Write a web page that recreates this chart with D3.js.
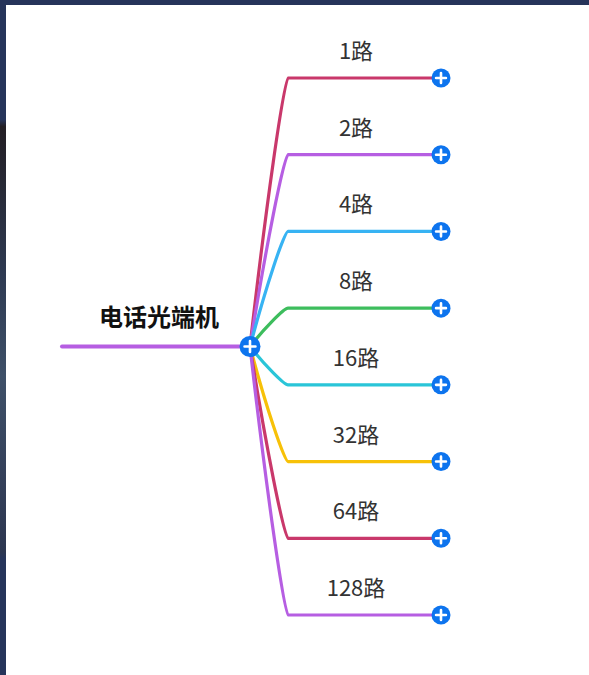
<!DOCTYPE html>
<html>
<head>
<meta charset="utf-8">
<script src="https://cdn.jsdelivr.net/npm/d3@7"></script>
<style>
  html, body { margin: 0; padding: 0; background: #ffffff; }
  svg { display: block; }
</style>
</head>
<body>
<div id="chart"></div>
<script>
const rootLabel = '电话光端机';
const rootColor = '#b65ee2';
const branchLabels = ['1路', '2路', '4路', '8路', '16路', '32路', '64路', '128路'];
const branchColors = ['#c9386b', '#b65ee2', '#37b3f3', '#3dbd5d', '#2ac5d8', '#f7c108', '#c9386b', '#b65ee2'];

const width = 589;
const height = 675;

const svg = d3.select('#chart')
  .append('svg')
  .attr('width', width)
  .attr('height', height);

// dark frame around the white canvas
svg.append('rect').attr('x', 0).attr('y', 0).attr('width', width).attr('height', height).attr('fill', '#26345a');
const edge = svg.append('defs').append('linearGradient')
  .attr('id', 'edge').attr('x1', 0).attr('y1', 0).attr('x2', 0).attr('y2', 1);
edge.append('stop').attr('offset', '0%').attr('stop-color', '#26345a');
edge.append('stop').attr('offset', '17%').attr('stop-color', '#26345a');
edge.append('stop').attr('offset', '18%').attr('stop-color', '#231f24');
edge.append('stop').attr('offset', '40%').attr('stop-color', '#2e3a52');
edge.append('stop').attr('offset', '55%').attr('stop-color', '#3e5068');
edge.append('stop').attr('offset', '70%').attr('stop-color', '#34405a');
edge.append('stop').attr('offset', '81%').attr('stop-color', '#2c3650');
edge.append('stop').attr('offset', '82%').attr('stop-color', '#26345a');
edge.append('stop').attr('offset', '100%').attr('stop-color', '#26345a');
svg.append('rect').attr('x', 0).attr('y', 5).attr('width', 6).attr('height', height).attr('fill', 'url(#edge)');
svg.append('rect').attr('x', 6).attr('y', 5).attr('width', width - 6).attr('height', height - 5).attr('fill', '#ffffff');

const y = d3.scalePoint()
  .domain(branchLabels)
  .range([78, 615]);

const rootX = 250;
const rootY = (y.range()[0] + y.range()[1]) / 2;
const rootLineStart = 62;
const nodeStart = 288;
const nodeEnd = 441;
const labelCenter = 356;

const color = d3.scaleOrdinal().domain(branchLabels).range(branchColors);

// root underline and label
svg.append('line')
  .attr('x1', rootLineStart).attr('x2', rootX)
  .attr('y1', rootY).attr('y2', rootY)
  .attr('stroke', rootColor)
  .attr('stroke-width', 4)
  .attr('stroke-linecap', 'round');

svg.append('text')
  .attr('x', (rootLineStart + rootX) / 2 + 3)
  .attr('y', rootY - 21)
  .attr('text-anchor', 'middle')
  .attr('font-family', '"Noto Sans CJK SC", sans-serif')
  .attr('font-size', 24)
  .attr('font-weight', 'bold')
  .attr('fill', '#111')
  .text(rootLabel);

const curve = d => {
  const x0 = rootX, y0 = rootY, x1 = nodeStart, y1 = y(d);
  const dx = x1 - x0, dy = y1 - y0;
  const p = d3.path();
  p.moveTo(x0, y0);
  p.bezierCurveTo(x0 + dx * 0.4, y0 + dy * 0.5, x1 - dx * 0.1, y1, x1, y1);
  p.lineTo(nodeEnd, y1);
  return p.toString();
};

const branches = svg.append('g').selectAll('g')
  .data(branchLabels)
  .enter()
  .append('g');

branches.append('path')
  .attr('d', curve)
  .attr('fill', 'none')
  .attr('stroke', d => color(d))
  .attr('stroke-width', 3.2)
  .attr('stroke-linecap', 'round');

branches.append('text')
  .attr('x', labelCenter)
  .attr('y', d => y(d) - 19)
  .attr('text-anchor', 'middle')
  .attr('font-family', '"Noto Sans CJK SC", sans-serif')
  .attr('font-size', 22)
  .attr('fill', '#333')
  .text(d => d);

const expandBtn = (cx, cy, r) => {
  const g = svg.append('g').attr('transform', `translate(${cx},${cy})`);
  g.append('circle').attr('r', r).attr('fill', '#0d74ee');
  const s = r * 0.52;
  g.append('path')
    .attr('d', `M${-s},0H${s}M0,${-s}V${s}`)
    .attr('stroke', '#fff')
    .attr('stroke-width', 2.6)
    .attr('stroke-linecap', 'round');
};

branchLabels.forEach(d => expandBtn(nodeEnd, y(d), 9.5));
expandBtn(rootX, rootY, 10.5);
</script>
</body>
</html>
